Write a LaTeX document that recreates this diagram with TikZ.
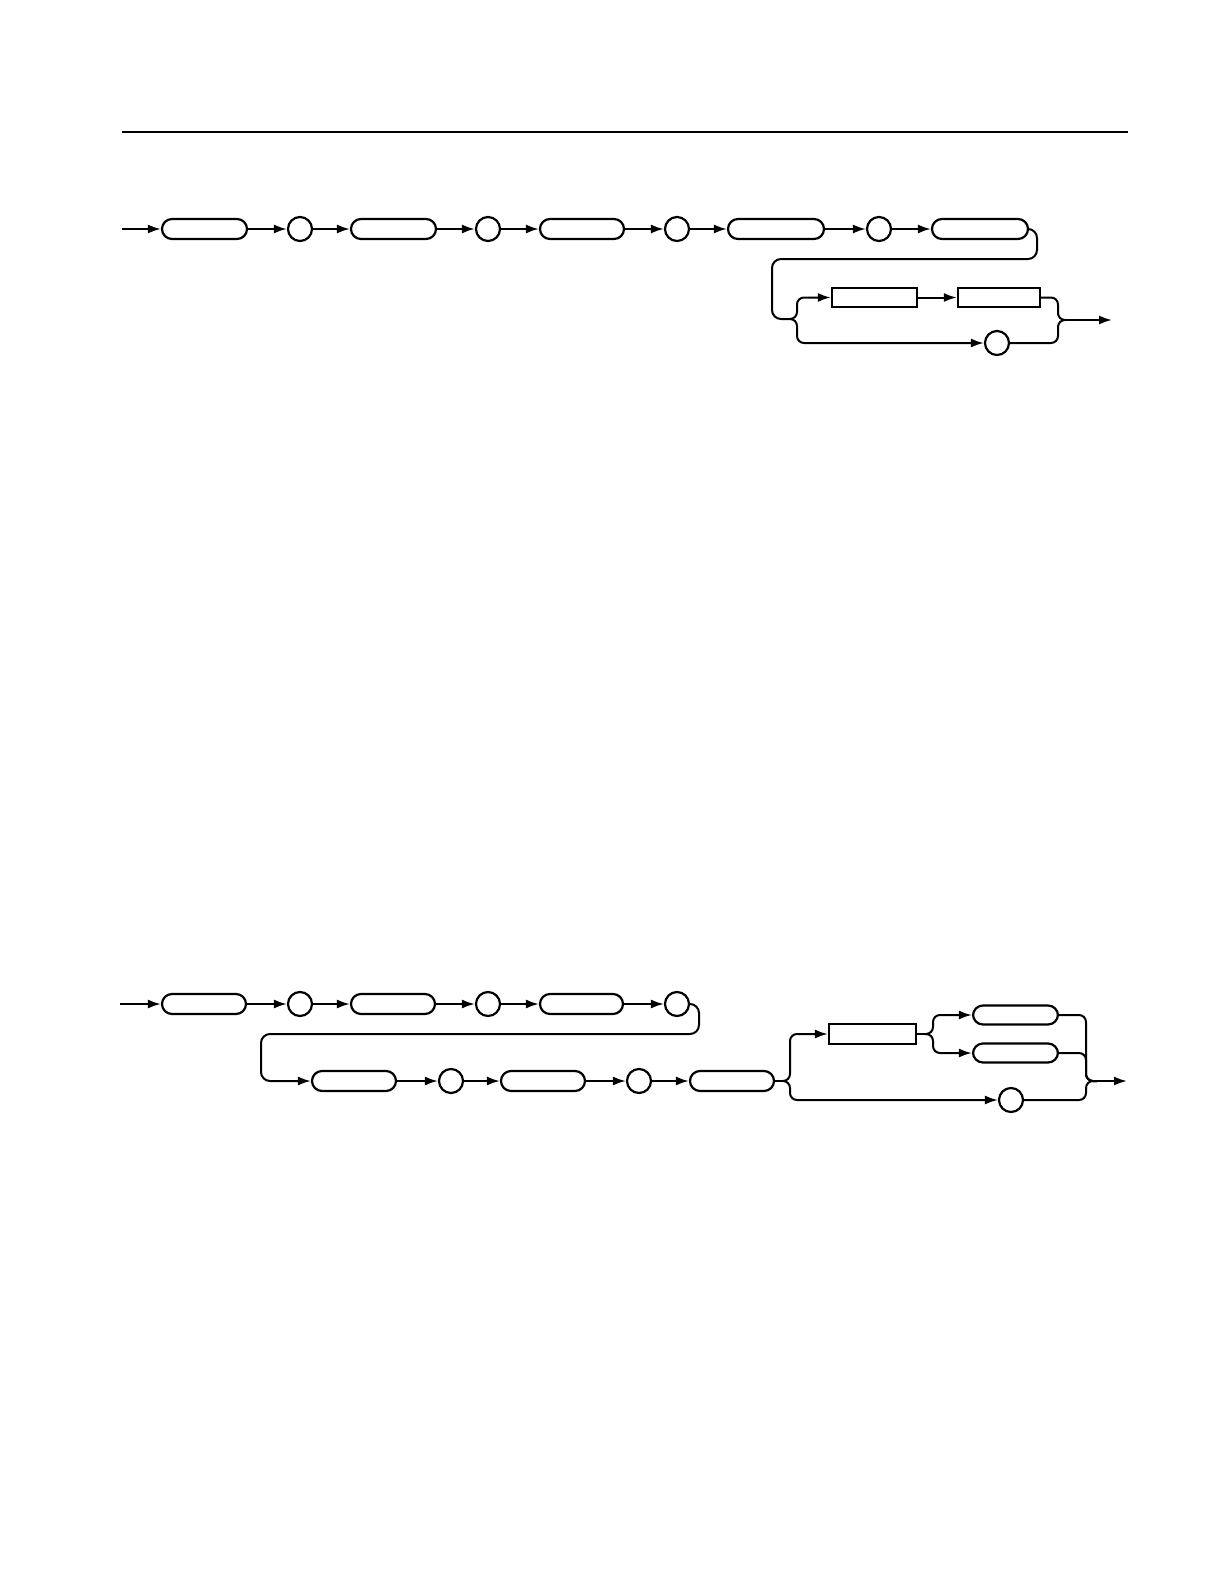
\documentclass[tikz,border=0pt]{standalone}
\usetikzlibrary{arrows.meta}
\begin{document}
\begin{tikzpicture}[x=0.5pt,y=-0.5pt,
  line width=1pt,
  rbox/.style={draw, rounded corners=5pt, minimum height=10pt, inner sep=0pt, line width=1.1pt},
  sbox/.style={draw, minimum height=9.5pt, inner sep=0pt, line width=1.1pt},
  circ/.style={draw, circle, minimum size=12pt, inner sep=0pt, line width=1.1pt},
  arr/.style={-{Latex[length=6.5pt,width=4.5pt]}},
  wire/.style={rounded corners=3.5pt}]
\useasboundingbox (0,0) rectangle (1224,1584);
% top rule
\coordinate (ruleL) at (122,132);
\coordinate (ruleR) at (1128,132);
\draw[line width=0.8pt] (ruleL) -- (ruleR);

% ---------------- diagram 1 ----------------
\coordinate (s1) at (122,229);
\node[rbox, minimum width=42.5pt] (b1) at (204.5,229) {};
\node[circ] (c1) at (300,229) {};
\node[rbox, minimum width=42.5pt] (b2) at (393.5,229) {};
\node[circ] (c2) at (488,229) {};
\node[rbox, minimum width=42pt] (b3) at (582,229) {};
\node[circ] (c3) at (677,229) {};
\node[rbox, minimum width=48pt] (b4) at (776,229) {};
\node[circ] (c4) at (879,229) {};
\node[rbox, minimum width=48pt] (b5) at (980,229) {};
\draw[arr] (s1) -- (b1);
\draw[arr] (b1) -- (c1);
\draw[arr] (c1) -- (b2);
\draw[arr] (b2) -- (c2);
\draw[arr] (c2) -- (b3);
\draw[arr] (b3) -- (c3);
\draw[arr] (c3) -- (b4);
\draw[arr] (b4) -- (c4);
\draw[arr] (c4) -- (b5);
\coordinate (t1) at (790,319);
\draw[rounded corners=4.5pt] (b5.east) -- (1037,229) -- (1037,259) -- (772,259) -- (772,319) -- (t1);
\node[sbox, minimum width=42.5pt] (r1) at (874.5,297.5) {};
\node[sbox, minimum width=41pt] (r2) at (999,297.5) {};
\node[circ] (c5) at (997,343) {};
\draw[arr, wire] (t1) -- (797,319) -- (797,297.5) -- (r1.west);
\draw[arr] (r1) -- (r2);
\draw[arr, wire] (t1) -- (797,319) -- (797,343) -- (c5.west);
\coordinate (t2) at (1065,320);
\coordinate (e1) at (1112,320);
\draw[wire] (r2.east) -- (1058,297.5) -- (1058,320) -- (t2);
\draw[wire] (c5.east) -- (1058,343) -- (1058,320) -- (t2);
\draw[arr] (t2) -- (e1);

% ---------------- diagram 2 ----------------
\coordinate (s2) at (120,1004);
\node[rbox, minimum width=42pt] (B1) at (204,1004) {};
\node[circ] (C1) at (300,1004) {};
\node[rbox, minimum width=42pt] (B2) at (393,1004) {};
\node[circ] (C2) at (488,1004) {};
\node[rbox, minimum width=41.5pt] (B3) at (581.5,1004) {};
\node[circ] (C3) at (677,1004) {};
\draw[arr] (s2) -- (B1);
\draw[arr] (B1) -- (C1);
\draw[arr] (C1) -- (B2);
\draw[arr] (B2) -- (C2);
\draw[arr] (C2) -- (B3);
\draw[arr] (B3) -- (C3);
\node[rbox, minimum width=42pt] (L1) at (354,1081) {};
\node[circ] (LC1) at (451,1081) {};
\node[rbox, minimum width=42pt] (L2) at (543,1081) {};
\node[circ] (LC2) at (639,1081) {};
\node[rbox, minimum width=42pt] (L3) at (732,1081) {};
\draw[arr, rounded corners=4.5pt] (C3.east) -- (699,1004) -- (699,1034) -- (261,1034) -- (261,1081) -- (L1.west);
\draw[arr] (L1) -- (LC1);
\draw[arr] (LC1) -- (L2);
\draw[arr] (L2) -- (LC2);
\draw[arr] (LC2) -- (L3);
\coordinate (t3) at (783,1081);
\draw (L3.east) -- (t3);
\node[sbox, minimum width=43.5pt, minimum height=10pt] (R3) at (872.5,1034) {};
\node[circ] (C4) at (1011,1100) {};
\draw[arr, wire] (t3) -- (790,1081) -- (790,1034) -- (R3.west);
\draw[arr, wire] (t3) -- (790,1081) -- (790,1100) -- (C4.west);
\coordinate (t4) at (925,1034);
\draw (R3.east) -- (t4);
\node[rbox, minimum width=42.5pt, minimum height=9.5pt] (S1) at (1015.5,1015) {};
\node[rbox, minimum width=42.5pt, minimum height=9.5pt] (S2) at (1015.5,1053) {};
\draw[arr, wire] (t4) -- (933,1034) -- (933,1015) -- (S1.west);
\draw[arr, wire] (t4) -- (933,1034) -- (933,1053) -- (S2.west);
\coordinate (t5) at (1097,1081);
\coordinate (e2) at (1127,1081);
\draw[wire] (S1.east) -- (1086,1015) -- (1086,1081) -- (t5);
\draw[wire] (S2.east) -- (1086,1053) -- (1086,1081) -- (t5);
\draw[wire] (C4.east) -- (1086,1100) -- (1086,1081) -- (t5);
\draw[arr] (t5) -- (e2);
\end{tikzpicture}
\end{document}
